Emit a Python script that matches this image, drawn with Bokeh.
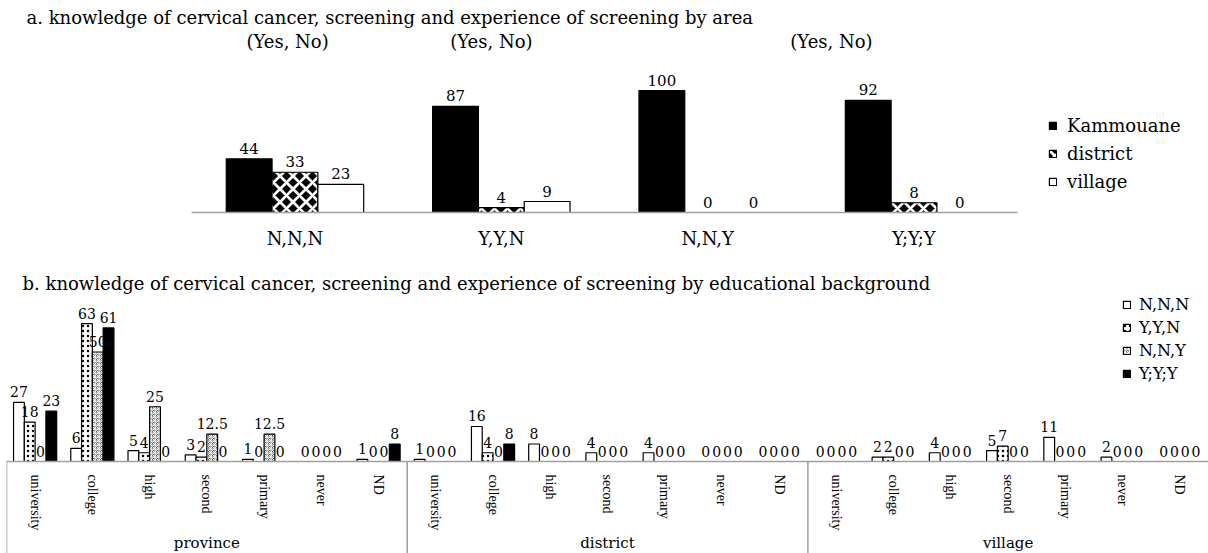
from bokeh.plotting import figure
from bokeh.models import (ColumnDataSource, FactorRange, Range1d, Label,
                          Legend, LegendItem)
from bokeh.core.properties import value
from bokeh.transform import dodge
from bokeh.embed import file_html
from bokeh.resources import INLINE

# ---- a. answer pattern (knowledge, screening, experience) by area ----
patterns = ["N,N,N", "Y,Y,N", "N,N,Y", "Y;Y;Y"]
kammouane = [44, 87, 100, 92]
district = [33, 4, 0, 8]
village = [23, 9, 0, 0]

# ---- b. answer pattern by educational background within each area ----
areas = ["province", "district", "village"]
education = ["university", "college", "high", "second", "primary", "never", "ND"]
nnn = [27, 6, 5, 3, 1, 0, 1,   1, 16, 8, 4, 4, 0, 0,   0, 2, 4, 5, 11, 2, 0]
yyn = [18, 63, 4, 2, 0, 0, 0,  0, 4, 0, 0, 0, 0, 0,    0, 2, 0, 7, 0, 0, 0]
nny = [0, 50, 25, 12.5, 12.5, 0, 0,  0, 0, 0, 0, 0, 0, 0,  0, 0, 0, 0, 0, 0, 0]
yyy = [23, 61, 0, 0, 0, 0, 8,  0, 8, 0, 0, 0, 0, 0,    0, 0, 0, 0, 0, 0, 0]

SERIF = "DejaVu Serif"
TIMES = "Liberation Serif"
GREY = "#a0a0a0"


def fmt(v):
    return f"{v:g}"


def shown(vals):
    # zero-height bars get no outline
    return [1 if v else 0 for v in vals]


# ------------------------------------------------------------------ panel a
src_a = ColumnDataSource(dict(
    x=patterns,
    kam=kammouane, kam_t=[fmt(v) for v in kammouane], kam_a=shown(kammouane),
    dis=district, dis_t=[fmt(v) for v in district], dis_a=shown(district),
    vil=village, vil_t=[fmt(v) for v in village], vil_a=shown(village),
))

# padding on each side of the four groups leaves room for title and legend
xr_a = FactorRange(factors=patterns, range_padding=0.927, range_padding_units="absolute")
pa = figure(width=1208, height=258, x_range=xr_a, y_range=Range1d(0, 173.8),
            output_backend="svg", toolbar_location=None, title=None,
            y_axis_location=None, min_border_left=0, min_border_right=0,
            min_border_top=0, min_border_bottom=46, outline_line_color=None)
pa.grid.visible = False

bw = 0.222
series_a = [
    ("kam", -bw, dict(fill_color="black")),
    ("dis", 0.0, dict(fill_color="black", hatch_pattern="diagonal_cross",
                      hatch_color="white", hatch_weight=2.7, hatch_scale=13)),
    ("vil", bw, dict(fill_color="white")),
]
rends_a = []
for col, off, style in series_a:
    r = pa.vbar(x=dodge("x", off, range=pa.x_range), top=col, width=bw, source=src_a,
                line_color="black", line_width=1.2, line_alpha=col + "_a", **style)
    rends_a.append(r)
    pa.text(x=dodge("x", off, range=pa.x_range), y=col, text=col + "_t", source=src_a,
            text_align="center", text_baseline="bottom", y_offset=-5,
            text_font=value(SERIF), text_font_size="15px", text_color="black")

ax = pa.xaxis[0]
ax.bounds = (0, len(patterns))
ax.axis_line_color = GREY
ax.axis_line_width = 1.5
ax.major_tick_line_color = None
ax.major_label_standoff = 9
ax.major_label_text_font = SERIF
ax.major_label_text_font_size = "18px"
ax.major_label_text_color = "black"

pa.add_layout(Label(x=-0.801, y=159.8,
                    text="a. knowledge of cervical cancer, screening and experience of screening by area",
                    text_font=SERIF, text_font_size="18px", text_color="black",
                    text_baseline="middle", text_align="left"))
for xp in [0.464, 1.452, 3.100]:
    pa.add_layout(Label(x=xp, y=140.2, text="(Yes, No)", text_font=SERIF,
                        text_font_size="18px", text_color="black",
                        text_baseline="middle", text_align="center"))

leg_a = Legend(items=[LegendItem(label="Kammouane", renderers=[rends_a[0]]),
                      LegendItem(label="district", renderers=[rends_a[1]]),
                      LegendItem(label="village", renderers=[rends_a[2]])],
               location=(1048, 20), orientation="vertical", padding=0, margin=0,
               spacing=7, glyph_width=9, glyph_height=9, label_standoff=10,
               label_text_font=SERIF, label_text_font_size="18px",
               label_text_color="black",
               border_line_color=None, background_fill_alpha=0)
pa.add_layout(leg_a)

# ------------------------------------------------------------------ panel b
factors = [(a, e) for a in areas for e in education]
src_b = ColumnDataSource(dict(
    x=factors,
    nnn=nnn, nnn_t=[fmt(v) for v in nnn], nnn_a=shown(nnn),
    yyn=yyn, yyn_t=[fmt(v) for v in yyn], yyn_a=shown(yyn),
    nny=nny, nny_t=[fmt(v) for v in nny], nny_a=shown(nny),
    yyy=yyy, yyy_t=[fmt(v) for v in yyy], yyy_a=shown(yyy),
))

Y_LOW = -42.0   # room under the baseline for the category axis
pb = figure(width=1208, height=295,
            x_range=FactorRange(factors=factors, group_padding=0, subgroup_padding=0,
                                factor_padding=0),
            y_range=Range1d(Y_LOW, 92.7), output_backend="svg", toolbar_location=None,
            title=None, y_axis_location=None, min_border_left=6, min_border_right=0,
            min_border_top=0, min_border_bottom=0, outline_line_color=None)
pb.grid.visible = False

bb = 0.1885
series_b = [
    ("nnn", -1.5 * bb, dict(fill_color="white")),
    ("yyn", -0.5 * bb, dict(fill_color="white", hatch_pattern="dot", hatch_color="black",
                            hatch_scale=5, hatch_weight=1)),
    ("nny", 0.5 * bb, dict(fill_color="#5a5a5a", hatch_pattern="criss_cross",
                           hatch_color="white", hatch_scale=4, hatch_weight=1)),
    ("yyy", 1.5 * bb, dict(fill_color="black")),
]
rends_b = []
for col, off, style in series_b:
    r = pb.vbar(x=dodge("x", off, range=pb.x_range), top=col, width=bb, source=src_b,
                line_color="black", line_width=1.2, line_alpha=col + "_a", **style)
    rends_b.append(r)
    pb.text(x=dodge("x", off, range=pb.x_range), y=col, text=col + "_t", source=src_b,
            text_align="center", text_baseline="bottom", y_offset=-5,
            text_font=value(SERIF), text_font_size="14px", text_color="black")

# box lines at the start of each area block, running down through the labels
edges = ColumnDataSource(dict(x=[(a, education[0]) for a in areas],
                              y0=[0] * len(areas), y1=[Y_LOW] * len(areas)))
pb.segment(x0=dodge("x", -0.499, range=pb.x_range), y0="y0",
           x1=dodge("x", -0.499, range=pb.x_range), y1="y1",
           source=edges, line_color=GREY, line_width=1.5)

bx = pb.xaxis[0]
bx.fixed_location = 0
bx.axis_line_color = GREY
bx.axis_line_width = 1.5
bx.major_tick_line_color = None
bx.major_label_orientation = "vertical"
bx.major_label_standoff = 7
bx.major_label_text_font = TIMES
bx.major_label_text_font_size = "14px"
bx.major_label_text_color = "black"
bx.group_text_color = None          # area names are written below, closer in
bx.separator_line_color = None

# area names centred under each block of seven education levels
mid = education[len(education) // 2]
pb.text(x=[(a, mid) for a in areas], y=[-37.4] * len(areas), text=areas,
        text_align="center", text_baseline="middle",
        text_font=value(SERIF), text_font_size="15px", text_color="black")

pb.add_layout(Label(x=0.28, y=81.3,
                    text="b. knowledge of cervical cancer, screening and experience of screening by educational background",
                    text_font=SERIF, text_font_size="18px", text_color="black",
                    text_baseline="middle", text_align="left"))

leg_b = Legend(items=[LegendItem(label="N,N,N", renderers=[rends_b[0]], index=0),
                      LegendItem(label="Y,Y,N", renderers=[rends_b[1]], index=0),
                      LegendItem(label="N,N,Y", renderers=[rends_b[2]], index=1),
                      LegendItem(label="Y;Y;Y", renderers=[rends_b[3]], index=0)],
               location=(1116, 170), orientation="vertical", padding=0, margin=0,
               spacing=4, glyph_width=9, glyph_height=9, label_standoff=8,
               label_text_font=SERIF, label_text_font_size="16px",
               label_text_color="black",
               border_line_color=None, background_fill_alpha=0)
pb.add_layout(leg_b)

open("out.html", "w").write(file_html([pa, pb], INLINE))
